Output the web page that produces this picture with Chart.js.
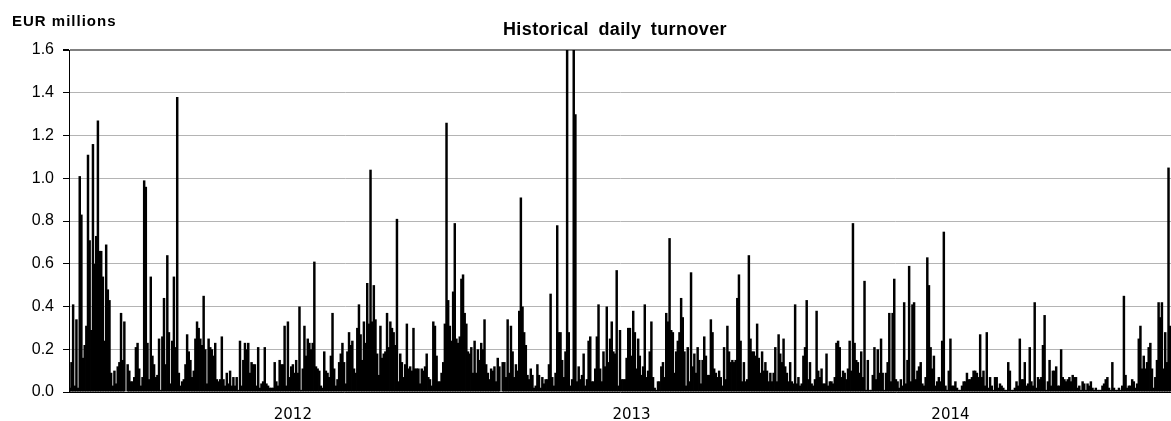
<!DOCTYPE html>
<html>
<head>
<meta charset="utf-8">
<script src="https://cdn.jsdelivr.net/npm/chart.js@4"></script>
<style>
  html, body { margin: 0; padding: 0; background: #fff; }
  #wrap { position: relative; width: 1171px; height: 421px; }
  #unit { position: absolute; left: 12px; top: 12px; font: bold 15px "Liberation Sans", Arial, sans-serif; letter-spacing: 1px; color: #000; }
  #title { position: absolute; left: 69px; width: 1092px; top: 19px; text-align: center; font: bold 18px "Liberation Sans", Arial, sans-serif; letter-spacing: 0.4px; word-spacing: 4px; color: #000; }
</style>
</head>
<body>
<div id="wrap">
  <canvas id="turnoverChart" width="1171" height="421"></canvas>
  <div id="unit">EUR millions</div>
  <div id="title">Historical daily turnover</div>
</div>
<script>
// daily turnover, EUR millions
const turnover2011 = [
    0.02, 0.14, 0.41, 0.03, 0.34, 0.02, 1.01, 0.83, 0.16, 0.22,
    0.31, 1.11, 0.71, 0.29, 1.16, 0.60, 0.73, 1.27, 0.66, 0.66,
    0.54, 0.24, 0.69, 0.48, 0.43, 0.09, 0.03, 0.10, 0.04, 0.12,
    0.14, 0.37, 0.15, 0.33, 0.00, 0.13, 0.10, 0.05, 0.05, 0.07,
    0.21, 0.23, 0.11, 0.03, 0.07, 0.99, 0.96, 0.23, 0.06, 0.54,
    0.17, 0.13, 0.07, 0.08, 0.25, 0.01, 0.26, 0.44, 0.13, 0.64,
    0.28, 0.04, 0.24, 0.54, 0.21, 1.38, 0.09, 0.03, 0.05, 0.06,
    0.13, 0.27, 0.19, 0.15, 0.07, 0.10, 0.25, 0.33, 0.30, 0.25,
    0.22, 0.45, 0.20, 0.04, 0.25, 0.21, 0.20, 0.17, 0.23, 0.06,
    0.05, 0.06, 0.26, 0.06, 0.03, 0.09, 0.04, 0.10, 0.03, 0.07,
    0.03, 0.07, 0.01, 0.24, 0.03, 0.15, 0.23, 0.20, 0.23, 0.09,
    0.14, 0.13, 0.13, 0.03, 0.21, 0.02, 0.04, 0.05, 0.21, 0.04,
    0.03, 0.02, 0.02, 0.02, 0.14, 0.05, 0.03, 0.15, 0.13, 0.13,
    0.31, 0.03, 0.33, 0.07, 0.12
];
const turnover2012 = [
    0.13, 0.09, 0.15, 0.09, 0.40, 0.01, 0.11, 0.31, 0.17, 0.25,
    0.23, 0.20, 0.23, 0.61, 0.12, 0.11, 0.10, 0.03, 0.02, 0.19,
    0.10, 0.09, 0.07, 0.17, 0.37, 0.11, 0.03, 0.06, 0.14, 0.18,
    0.23, 0.14, 0.04, 0.19, 0.28, 0.22, 0.24, 0.11, 0.09, 0.30,
    0.41, 0.27, 0.15, 0.33, 0.23, 0.51, 0.32, 1.04, 0.33, 0.50,
    0.34, 0.18, 0.08, 0.31, 0.16, 0.18, 0.19, 0.37, 0.21, 0.33,
    0.30, 0.28, 0.22, 0.81, 0.05, 0.18, 0.14, 0.07, 0.13, 0.32,
    0.11, 0.12, 0.10, 0.30, 0.11, 0.11, 0.11, 0.04, 0.11, 0.10,
    0.12, 0.18, 0.07, 0.06, 0.03, 0.33, 0.31, 0.17, 0.05, 0.05,
    0.09,
    0.14, 0.32, 1.26, 0.43, 0.31, 0.24, 0.47, 0.79, 0.25, 0.23,
    0.26, 0.53, 0.55, 0.37, 0.32, 0.19, 0.18, 0.21, 0.09, 0.24,
    0.09, 0.20, 0.15, 0.23, 0.20, 0.34, 0.13, 0.09, 0.06, 0.11,
    0.10, 0.12, 0.05, 0.16, 0.12, 0.00, 0.14, 0.14, 0.07, 0.34,
    0.09, 0.31, 0.19, 0.07, 0.13, 0.10, 0.38, 0.91, 0.40, 0.28,
    0.22, 0.08, 0.06, 0.11, 0.08, 0.02, 0.03, 0.13, 0.08, 0.02,
    0.07, 0.04, 0.06, 0.06, 0.13, 0.46, 0.07, 0.03, 0.09, 0.78,
    0.28, 0.28, 0.15, 0.07, 0.19, 1.75, 0.28, 0.03, 0.06, 1.68,
    1.30, 0.05, 0.12, 0.06, 0.08, 0.18, 0.03, 0.06, 0.24, 0.26,
    0.05, 0.05, 0.11, 0.26, 0.41, 0.11, 0.05, 0.19, 0.12, 0.40,
    0.14, 0.25, 0.33, 0.19, 0.18, 0.57, 0.03, 0.29, 0.06, 0.06,
    0.06, 0.16, 0.30, 0.30
];
const turnover2013 = [
    0.17, 0.38, 0.28, 0.11, 0.25, 0.17, 0.08, 0.12, 0.41, 0.07,
    0.10, 0.19, 0.33, 0.07, 0.02, 0.01, 0.05, 0.05, 0.12, 0.14,
    0.07, 0.37, 0.33, 0.72, 0.29, 0.28, 0.09, 0.19, 0.24, 0.28,
    0.44, 0.35, 0.19, 0.03, 0.21, 0.05, 0.56, 0.12, 0.18, 0.09,
    0.21, 0.15, 0.04, 0.15, 0.26, 0.17, 0.08, 0.08, 0.34, 0.28,
    0.11, 0.09, 0.07, 0.10, 0.07, 0.03, 0.21, 0.06, 0.31, 0.19,
    0.14, 0.15, 0.14, 0.15, 0.44, 0.55, 0.24, 0.05, 0.14, 0.05,
    0.06, 0.64, 0.25, 0.19, 0.19, 0.17, 0.32, 0.16, 0.09, 0.19,
    0.10, 0.14, 0.10, 0.05, 0.09, 0.05, 0.09, 0.21, 0.05, 0.27,
    0.18, 0.14, 0.25, 0.12, 0.09, 0.05, 0.14, 0.05, 0.04, 0.41,
    0.04, 0.07, 0.03, 0.04, 0.17, 0.21, 0.43,
    0.06, 0.14, 0.04, 0.03, 0.06, 0.38, 0.10, 0.07, 0.11, 0.04,
    0.04, 0.18, 0.03, 0.05, 0.05, 0.04, 0.07, 0.23, 0.24, 0.21,
    0.07, 0.10, 0.09, 0.06, 0.11, 0.24, 0.10, 0.79, 0.23, 0.15,
    0.14, 0.09, 0.19, 0.07, 0.52, 0.01, 0.15, 0.01, 0.01, 0.08,
    0.21, 0.06, 0.20, 0.09, 0.25, 0.09, 0.01, 0.09, 0.14, 0.37,
    0.05, 0.37, 0.53, 0.06, 0.05, 0.02, 0.06, 0.03, 0.42, 0.04,
    0.15, 0.59, 0.05, 0.41, 0.42, 0.06, 0.10, 0.12, 0.14, 0.04,
    0.03, 0.07, 0.63, 0.50, 0.21, 0.11, 0.17, 0.03, 0.05, 0.07,
    0.05, 0.24, 0.75, 0.03, 0.01, 0.10
];
const turnover2014 = [
    0.25, 0.03, 0.03, 0.05, 0.02, 0.01, 0.01, 0.03, 0.05, 0.05,
    0.09, 0.06, 0.06, 0.07, 0.10, 0.10, 0.09, 0.07, 0.27, 0.07,
    0.10, 0.03, 0.28,
    0.02, 0.07, 0.03, 0.01, 0.07, 0.07, 0.02, 0.04, 0.03, 0.02,
    0.01, 0.01, 0.14, 0.10, 0.01, 0.01, 0.02, 0.05, 0.03, 0.25,
    0.06, 0.06, 0.14, 0.03, 0.04, 0.21, 0.05, 0.03, 0.42, 0.02,
    0.07, 0.06, 0.07, 0.22, 0.36, 0.01, 0.05, 0.15, 0.03, 0.10,
    0.10, 0.12, 0.03, 0.03, 0.20, 0.07, 0.06, 0.05, 0.06, 0.07,
    0.05, 0.08, 0.07, 0.07, 0.02, 0.03, 0.01, 0.05, 0.04, 0.01,
    0.04, 0.03, 0.05, 0.02, 0.01, 0.02, 0.01, 0.01, 0.01, 0.03,
    0.04, 0.06, 0.07, 0.02, 0.01, 0.14, 0.02, 0.01, 0.01, 0.02,
    0.01, 0.03, 0.45, 0.08, 0.02, 0.03, 0.03, 0.06, 0.05, 0.02,
    0.04, 0.25, 0.31, 0.11, 0.17, 0.11, 0.14, 0.21, 0.23, 0.11,
    0.02, 0.07, 0.15, 0.42, 0.35, 0.42, 0.11, 0.28, 0.14, 1.05,
    0.31
];

const yearSeries = [turnover2011, turnover2012, turnover2013, turnover2014];
const yearNames = ['2011', '2012', '2013', '2014'];
const yearTickLabels = ['2012', '2013', '2014']; // 2011 is not labelled

// one category per trading day; the first day of a year carries the year
const labels = [];
const values = [];
yearSeries.forEach((arr, y) => {
    arr.forEach((v, i) => {
        labels.push(i === 0 && yearTickLabels.includes(yearNames[y]) ? yearNames[y] : '');
        values.push(v);
    });
});

new Chart(document.getElementById('turnoverChart'), {
    type: 'bar',
    data: {
        labels: labels,
        datasets: [{
            label: 'Daily turnover',
            data: values,
            backgroundColor: '#000',
            borderWidth: 0,
            barPercentage: 1.5, // bars overlap a little so the mass looks solid
            categoryPercentage: 1
        }]
    },
    options: {
        responsive: false,
        animation: false,
        devicePixelRatio: 1,
        layout: { padding: { top: 50, right: 0, left: 0, bottom: 0 } },
        plugins: {
            legend: { display: false },
            tooltip: { enabled: false }
        },
        scales: {
            x: {
                afterFit: s => { s.height = 29; },
                grid: { display: false, drawTicks: false },
                border: { color: '#000', width: 1 },
                ticks: {
                    autoSkip: false,
                    maxRotation: 0,
                    minRotation: 0,
                    padding: 14,
                    color: '#000',
                    font: { family: 'DejaVu Sans', size: 15 },
                    callback: function (v, i) { return labels[i] || null; }
                }
            },
            y: {
                min: 0,
                max: 1.6,
                afterFit: s => { s.width = 69; },
                border: { color: '#000', width: 1 },
                grid: {
                    color: c => c.tick && c.tick.value === 1.6 ? '#808080' : '#b4b4b4',
                    lineWidth: c => c.tick && c.tick.value === 1.6 ? 2 : 1,
                    tickColor: '#000',
                    tickLength: 6
                },
                ticks: {
                    stepSize: 0.2,
                    padding: 9,
                    color: '#000',
                    font: { family: 'Liberation Sans', size: 16 },
                    callback: v => v.toFixed(1)
                }
            }
        }
    }
});
</script>
</body>
</html>
